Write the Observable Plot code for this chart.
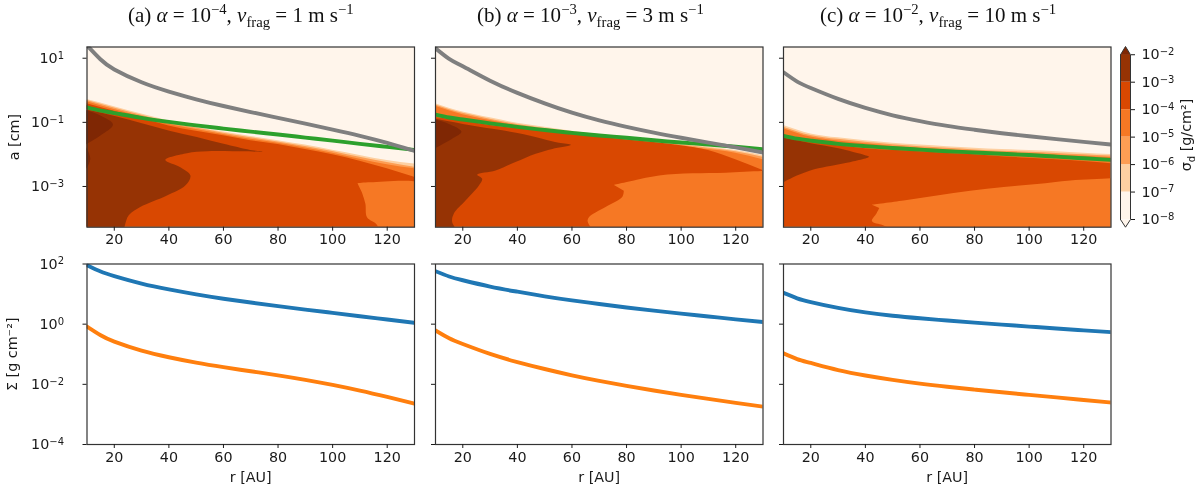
<!DOCTYPE html>
<html>
<head>
<meta charset="utf-8">
<script src="https://cdn.jsdelivr.net/npm/d3@7"></script>
<script src="https://cdn.jsdelivr.net/npm/@observablehq/plot@0.6"></script>
<style>
  body { margin: 0; background: #fff; }
  #fig { position: relative; width: 1200px; height: 491px; overflow: hidden; filter: blur(0.35px); }
  #fig svg { position: absolute; overflow: visible; background: none; }
  .title { position: absolute; top: 3px; font: 21px "Liberation Serif", serif; white-space: nowrap; color: #111; }
  .title sup, .title sub { font-size: 70%; line-height: 0; }
  .cblabel { position: absolute; left: 1186px; top: 135px; font: 14.3px "DejaVu Sans", sans-serif; color: #1a1a1a;
    white-space: nowrap; transform: translate(-50%, -50%) rotate(-90deg); }
  .cblabel sub { font-size: 70%; line-height: 0; }
</style>
</head>
<body>
<div id="fig"></div>
<script>
// radius grids (AU): r for the contour edges, rLine for the curves
// all values below are log10
const r = [10, 20, 30, 40, 50, 60, 70, 80, 90, 100, 110, 120, 130]
const rLine = [10, 15, 20, 30, 40, 50, 60, 70, 80, 90, 100, 110, 120, 130]

// (a) alpha 1e-4
const aGray = [1.4, 0.96, 0.65, 0.25, -0.04, -0.28, -0.49, -0.68, -0.86, -1.04, -1.225, -1.42, -1.64, -1.89]
const aGreen = [-0.53, -0.635, -0.71, -0.86, -0.985, -1.095, -1.195, -1.29, -1.38, -1.475, -1.57, -1.67, -1.765, -1.86]
const aEdge7 = [-0.29, -0.51, -0.74, -0.96, -1.15, -1.3, -1.44, -1.57, -1.71, -1.87, -2.03, -2.19, -2.3]
const aEdge6 = [-0.32, -0.55, -0.78, -1.01, -1.18, -1.34, -1.48, -1.61, -1.75, -1.91, -2.09, -2.25, -2.4]
const aEdge5 = [-0.36, -0.6, -0.83, -1.06, -1.22, -1.38, -1.53, -1.65, -1.8, -1.96, -2.15, -2.32, -2.45]
const aEdge4 = [-0.42, -0.65, -0.88, -1.11, -1.28, -1.42, -1.57, -1.69, -1.85, -2.01, -2.21, -2.45, -2.71]
const aBrown = [[4, -0.5], [10, -0.61], [20.1, -0.8], [30.1, -1.03], [40.2, -1.26], [50.2, -1.46], [60, -1.67], [69.8, -1.86], [74.5, -1.91], [63.7, -1.9], [54, -1.9], [46.6, -1.96], [38.7, -2.17], [44.2, -2.4], [47.9, -2.66], [46, -2.97], [39.3, -3.28], [29.5, -3.64], [25.3, -3.9], [21.5, -4.6], [4, -4.6]]
const aDark = [[[4, -0.5], [10, -0.63], [14.9, -0.79], [19.5, -1.07], [14.9, -1.41], [10, -1.67], [4, -2]], [[8, -1.6], [10, -1.83], [11.2, -2.14], [10, -2.4], [8, -2.6]]]
const aLight = [[109.1, -2.9], [113.8, -2.87], [136, -3.02], [136, -4.6], [118, -4.6], [116.2, -4.19], [112.6, -3.96], [112, -3.54], [110.7, -3.18]]
const aDisk = [1.96, 1.75, 1.6, 1.35, 1.155, 0.99, 0.845, 0.72, 0.6, 0.485, 0.375, 0.265, 0.155, 0.045]
const aDust = [-0.08, -0.37, -0.58, -0.88, -1.1, -1.28, -1.43, -1.565, -1.7, -1.85, -2.02, -2.21, -2.42, -2.64]

// (b) alpha 1e-3
const bGray = [1.31, 0.98, 0.75, 0.3, -0.08, -0.41, -0.7, -0.94, -1.14, -1.32, -1.48, -1.63, -1.78, -1.94]
const bGreen = [-0.76, -0.85, -0.91, -1.03, -1.14, -1.24, -1.33, -1.41, -1.48, -1.56, -1.63, -1.69, -1.76, -1.84]
const bEdge7 = [-0.42, -0.68, -0.86, -1.03, -1.15, -1.28, -1.38, -1.47, -1.57, -1.67, -1.77, -1.88, -2.03]
const bEdge6 = [-0.46, -0.72, -0.9, -1.07, -1.19, -1.32, -1.42, -1.51, -1.61, -1.71, -1.81, -1.92, -2.09]
const bEdge5 = [-0.5, -0.76, -0.94, -1.11, -1.23, -1.36, -1.46, -1.55, -1.65, -1.75, -1.85, -1.96, -2.17]
const bEdge4 = [-0.85, -0.96, -1.1, -1.2, -1.29, -1.38, -1.46, -1.55, -1.63, -1.73, -1.88, -2.17, -2.5]
const bBrown = [[4, -0.8], [10, -0.89], [20, -1.05], [30.8, -1.2], [40, -1.33], [49.1, -1.51], [55.2, -1.64], [59.6, -1.7], [52.8, -1.83], [46.7, -1.98], [39.3, -2.24], [32, -2.5], [25.3, -2.63], [27.1, -2.76], [25.9, -2.97], [21, -3.44], [16.7, -3.85], [16.1, -4.11], [19, -4.6], [4, -4.6]]
const bDark = [[[4, -0.85], [10, -0.92], [14.9, -1.05], [19.5, -1.29], [16.1, -1.51], [10, -1.8], [4, -2.1]]]
const bLight = [[75.4, -2.95], [79.7, -2.87], [91.9, -2.66], [104.1, -2.59], [116.3, -2.57], [129.5, -2.52], [136, -2.5], [136, -4.6], [72, -4.6], [65.8, -4.11], [66.2, -3.96], [72.3, -3.64], [78.4, -3.33], [79, -3.13]]
const bDisk = [1.76, 1.585, 1.46, 1.25, 1.08, 0.925, 0.79, 0.67, 0.555, 0.45, 0.35, 0.255, 0.16, 0.07]
const bDust = [-0.21, -0.47, -0.66, -0.99, -1.26, -1.49, -1.7, -1.885, -2.05, -2.205, -2.35, -2.485, -2.615, -2.74]

// (c) alpha 1e-2
const cGray = [0.56, 0.27, 0.07, -0.27, -0.55, -0.78, -0.96, -1.11, -1.23, -1.34, -1.435, -1.525, -1.61, -1.69]
const cGreen = [-1.42, -1.51, -1.57, -1.67, -1.74, -1.8, -1.85, -1.9, -1.94, -1.98, -2.02, -2.07, -2.12, -2.17]
const cEdge7 = [-1.1, -1.36, -1.48, -1.57, -1.65, -1.71, -1.76, -1.81, -1.85, -1.88, -1.92, -1.96, -2]
const cEdge6 = [-1.15, -1.41, -1.53, -1.62, -1.7, -1.76, -1.81, -1.86, -1.9, -1.93, -1.97, -2.01, -2.05]
const cEdge5 = [-1.2, -1.46, -1.58, -1.67, -1.75, -1.81, -1.86, -1.91, -1.95, -1.98, -2.02, -2.06, -2.1]
const cEdge4 = [-1.48, -1.62, -1.73, -1.82, -1.87, -1.92, -1.97, -2.01, -2.07, -2.12, -2.17, -2.22, -2.29]
const cBrown = [[4, -1.4], [10, -1.48], [20, -1.65], [29.6, -1.8], [40.2, -2.03], [41.4, -2.07], [33.2, -2.26], [25.9, -2.38], [19.8, -2.5], [14.9, -2.66], [10, -2.87], [4, -3.2]]
const cDark = []
const cLight = [[42.4, -3.57], [54, -3.44], [66.2, -3.28], [78.4, -3.13], [90.7, -3.02], [102.9, -2.92], [115.1, -2.81], [130, -2.74], [136, -2.72], [136, -4.6], [58, -4.6], [46.7, -4.22], [42.4, -4.08], [44, -3.85], [45.1, -3.67]]
const cDisk = [1.04, 0.86, 0.735, 0.54, 0.39, 0.28, 0.195, 0.12, 0.05, -0.015, -0.08, -0.145, -0.205, -0.265]
const cDust = [-0.97, -1.16, -1.29, -1.525, -1.705, -1.85, -1.975, -2.08, -2.175, -2.265, -2.35, -2.435, -2.52, -2.605]

// colour levels, low to high
const levels = [-8, -7, -6, -5, -4, -3, -2]
const levelColors = ['#fff5eb', '#fdd0a2', '#fd9e54', '#f67824', '#d94801', '#963304']
const overColor = '#7f2704'

const rTicks = [20, 40, 60, 80, 100, 120]
const aTicks = [1, -1, -3]
const sigmaTicks = [2, 0, -2, -4]

const grayColor = '#7f7f7f'
const greenColor = '#2ca02c'
const blueColor = '#1f77b4'
const orangeColor = '#ff7f0e'

const titles = [
  ['(a)&nbsp;<i>α</i> = 10<sup>−4</sup>, <i>v</i><sub>frag</sub> = 1 m s<sup>−1</sup>', 128],
  ['(b)&nbsp;<i>α</i> = 10<sup>−3</sup>, <i>v</i><sub>frag</sub> = 3 m s<sup>−1</sup>', 477],
  ['(c)&nbsp;<i>α</i> = 10<sup>−2</sup>, <i>v</i><sub>frag</sub> = 10 m s<sup>−1</sup>', 820]
]

const fig = d3.select('#fig')
const powerLabel = t => '10^' + Math.round(Math.log10(t))
const pts = (grid, ys) => grid.map((d, i) => ({r: d, a: 10 ** ys[i]}))
const poly = (p) => p.map(d => ({r: d[0], a: 10 ** d[1]}))

const fontStyle = {fontFamily: '"DejaVu Sans", sans-serif', fontSize: '14.3px', color: '#1a1a1a', background: 'none'}
const aBottom = 10 ** -4.27
const innerW = 327.5

// tick labels like 10^-2 become 10 with a raised exponent
function raisePowers(svg) {
  d3.select(svg).selectAll('text').each(function () {
    const s = this.textContent
    if (!s.startsWith('10^')) return
    const t = d3.select(this).text('')
    t.append('tspan').text('10')
    t.append('tspan').attr('dy', '-0.42em').attr('font-size', '70%').text(s.slice(3).replace('-', '−'))
  })
}

function place(svg, left, top) {
  raisePowers(svg)
  svg.style.left = left + 'px'
  svg.style.top = top + 'px'
  fig.append(() => svg)
}

function drawLine(ys, stroke) {
  return Plot.line(pts(rLine, ys), {x: 'r', y: 'a', stroke, strokeWidth: 3.9, curve: 'natural', clip: true})
}

function drawPoly(p, fill) {
  return Plot.line(poly(p), {x: 'r', y: 'a', fill, stroke: 'none', curve: 'catmull-rom', clip: true})
}

function topPanel(left, marginLeft, withLabels, d) {
  const edges = [d.edge7, d.edge6, d.edge5, d.edge4]
  const svg = Plot.plot({
    width: marginLeft + innerW + 8, height: 222,
    marginLeft, marginRight: 8, marginTop: 6.5, marginBottom: 35.3,
    style: fontStyle,
    x: {domain: [10, 130]},
    y: {type: 'log', domain: [aBottom, 10 ** 1.35]},
    marks: [
      Plot.frame({fill: levelColors[0], stroke: 'none'}),
      edges.map((e, i) => Plot.areaY(pts(r, e), {x: 'r', y1: aBottom, y2: 'a', fill: levelColors[i + 1], curve: 'natural', clip: true})),
      drawPoly(d.brown, levelColors[5]),
      d.dark.map(p => drawPoly(p, overColor)),
      drawPoly(d.light, levelColors[3]),
      drawLine(d.green, greenColor),
      drawLine(d.gray, grayColor),
      Plot.frame({stroke: '#333', strokeWidth: 1.2}),
      Plot.axisX({ticks: rTicks, tickSize: 4, tickPadding: 3, label: null}),
      Plot.axisY({
        ticks: aTicks.map(e => 10 ** e), tickSize: 4, tickPadding: 19,
        tickFormat: withLabels ? powerLabel : (() => ''),
        label: withLabels ? 'a [cm]' : null, labelAnchor: 'center', labelArrow: 'none', labelOffset: 78
      })
    ]
  })
  place(svg, left, 40)
}

function bottomPanel(left, marginLeft, withLabels, disk, dust) {
  const svg = Plot.plot({
    width: marginLeft + innerW + 8, height: 234,
    marginLeft, marginRight: 8, marginTop: 6.5, marginBottom: 47,
    style: fontStyle,
    x: {domain: [10, 130]},
    y: {type: 'log', domain: [1e-4, 1e2]},
    marks: [
      drawLine(disk, blueColor),
      drawLine(dust, orangeColor),
      Plot.frame({stroke: '#333', strokeWidth: 1.2}),
      Plot.axisX({ticks: rTicks, tickSize: 4, tickPadding: 3, label: 'r [AU]', labelAnchor: 'center', labelArrow: 'none', labelOffset: 37}),
      Plot.axisY({
        ticks: sigmaTicks.map(e => 10 ** e), tickSize: 4, tickPadding: 19,
        tickFormat: withLabels ? powerLabel : (() => ''),
        label: withLabels ? 'Σ [g cm⁻²]' : null, labelAnchor: 'center', labelArrow: 'none', labelOffset: 80
      })
    ]
  })
  place(svg, left, 257)
}

function colorbar() {
  const boxes = levelColors.map((c, i) => ({lo: 10 ** levels[i], hi: 10 ** levels[i + 1], c}))
  const tipTop = [[0, -2], [0.5, -1.7], [1, -2]].map(d => ({x: d[0], y: 10 ** d[1]}))
  const tipBottom = [[0, -8], [0.5, -8.28], [1, -8]].map(d => ({x: d[0], y: 10 ** d[1]}))
  const outline = [[0, -8], [0.5, -8.28], [1, -8], [1, -2], [0.5, -1.7], [0, -2], [0, -8]].map(d => ({x: d[0], y: 10 ** d[1]}))
  const svg = Plot.plot({
    width: 80, height: 222,
    marginLeft: 0, marginRight: 70, marginTop: 6, marginBottom: 35.3,
    style: fontStyle,
    x: {domain: [0, 1], axis: null},
    y: {type: 'log', domain: [10 ** -8.28, 10 ** -1.7]},
    marks: [
      Plot.rect(boxes, {x1: 0, x2: 1, y1: 'lo', y2: 'hi', fill: 'c', inset: 0}),
      Plot.line(tipTop, {x: 'x', y: 'y', fill: overColor, stroke: 'none'}),
      Plot.line(tipBottom, {x: 'x', y: 'y', fill: levelColors[0], stroke: 'none'}),
      Plot.line(outline, {x: 'x', y: 'y', stroke: '#333', strokeWidth: 1}),
      Plot.axisY({
        anchor: 'right', ticks: levels.map(e => 10 ** e), tickSize: 4, tickPadding: 7,
        tickFormat: powerLabel, label: null
      })
    ]
  })
  place(svg, 1120, 40)
}

topPanel(0, 86.5, true, {gray: aGray, green: aGreen, edge7: aEdge7, edge6: aEdge6, edge5: aEdge5, edge4: aEdge4, brown: aBrown, dark: aDark, light: aLight})
topPanel(422, 13, false, {gray: bGray, green: bGreen, edge7: bEdge7, edge6: bEdge6, edge5: bEdge5, edge4: bEdge4, brown: bBrown, dark: bDark, light: bLight})
topPanel(770, 13, false, {gray: cGray, green: cGreen, edge7: cEdge7, edge6: cEdge6, edge5: cEdge5, edge4: cEdge4, brown: cBrown, dark: cDark, light: cLight})

bottomPanel(0, 86.5, true, aDisk, aDust)
bottomPanel(422, 13, false, bDisk, bDust)
bottomPanel(770, 13, false, cDisk, cDust)

colorbar()

titles.forEach(t => {
  fig.append('div').attr('class', 'title').style('left', t[1] + 'px').html(t[0])
})
fig.append('div').attr('class', 'cblabel').html('σ<sub>d</sub> [g/cm²]')
</script>
</body>
</html>
